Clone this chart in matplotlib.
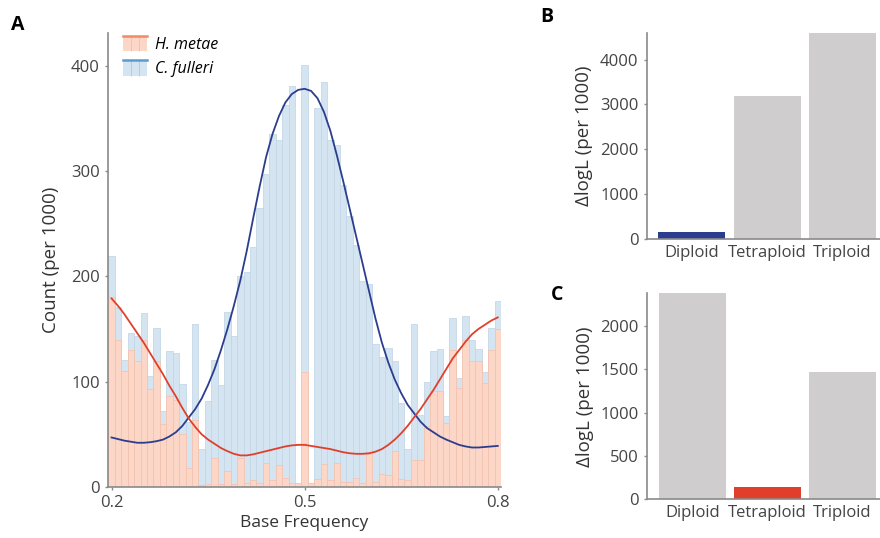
import numpy as np
import matplotlib
matplotlib.use("Agg")
import matplotlib.pyplot as plt
from matplotlib.legend_handler import HandlerBase
from matplotlib.patches import Rectangle
from matplotlib.lines import Line2D

plt.rcParams['font.family'] = ['Open Sans', 'DejaVu Sans']

# --- Panel A data: histogram of base frequencies (count per 1000) ---
freq_bins = np.round(np.linspace(0.2, 0.8, 61), 2)
fulleri_counts = [219, 171, 121, 146, 143, 165, 105, 151, 72, 129,
                  127, 98, 62, 155, 36, 82, 121, 97, 166, 143,
                  200, 204, 228, 265, 297, 335, 329, 363, 381, 0,
                  401, 0, 360, 384, 329, 325, 287, 257, 230, 196,
                  193, 136, 123, 132, 120, 80, 36, 155, 68, 100,
                  129, 131, 67, 160, 103, 162, 140, 131, 109, 151,
                  177]
metae_counts = [180, 140, 110, 130, 120, 140, 93, 120, 60, 86,
                83, 50, 18, 64, 2, 3, 28, 3, 15, 3,
                28, 4, 7, 4, 23, 7, 21, 9, 4, 4,
                109, 4, 8, 22, 7, 23, 5, 5, 9, 4,
                31, 5, 12, 11, 34, 8, 7, 26, 26, 58,
                91, 91, 61, 130, 94, 140, 120, 120, 99, 130,
                150]

# density curves, one value per bin centre
fulleri_curve = [47, 45.5, 44, 43, 42, 42, 42.5, 43.5, 45, 48,
                 52, 58, 66, 74, 84, 97, 112, 130, 150, 172,
                 196, 224, 255, 285, 313, 335, 352, 365, 373, 377,
                 378, 376, 369, 356, 338, 315, 290, 264, 238, 212,
                 186, 160, 137, 118, 102, 89, 78, 70, 62, 56,
                 52, 48, 45, 42.5, 40, 38.5, 37.5, 37.5, 38, 38.5,
                 39]
metae_curve = [179, 172, 164, 155, 146, 137, 127, 117, 107, 96,
               86, 75, 65, 57, 50, 45, 41, 37, 34, 31.5,
               30, 30, 31, 32.5, 34, 35.5, 37, 38.5, 39.5, 40,
               40, 39, 38, 37, 36, 34.5, 33, 32, 31.5, 31.5,
               32, 33.5, 36, 40, 45, 51, 58, 66, 74, 83,
               92, 102, 112, 122, 130, 138, 145, 150, 154, 158,
               161]

# --- Panels B and C: delta log-likelihood per model ---
ploidy = ['Diploid', 'Tetraploid', 'Triploid']
dlogl_fulleri = [169, 3184, 4590]
dlogl_metae = [2377, 142, 1465]

PINK = '#fcd6c7'
PINK_EDGE = '#f4c3b1'
LBLUE = '#d4e4f1'
LBLUE_EDGE = '#c4d7e8'
RED = '#e0402b'
NAVY = '#2b3d8f'
GREY = '#cfcdce'
SPINE = '#8a8a8a'
TXT = '#444444'


class HistKey:
    def __init__(self, fill, line):
        self.fill = fill
        self.line = line


class HistHandler(HandlerBase):
    def create_artists(self, legend, h, xd, yd, width, height, fontsize, trans):
        x0, y0 = -xd, -yd
        arts = [Rectangle((x0, y0), width, height, facecolor=h.fill,
                          edgecolor='none', transform=trans)]
        for f in (1 / 3, 2 / 3):
            arts.append(Line2D([x0 + width * f] * 2, [y0, y0 + height],
                               color=h.line, lw=0.6, alpha=0.35, transform=trans))
        arts.append(Line2D([x0, x0 + width], [y0 + height] * 2,
                           color=h.line, lw=1.8, transform=trans))
        return arts


def style_axes(ax):
    for side in ('top', 'right'):
        ax.spines[side].set_visible(False)
    for side in ('left', 'bottom'):
        ax.spines[side].set_color(SPINE)
        ax.spines[side].set_linewidth(1.2)
    ax.tick_params(colors=SPINE, labelcolor=TXT, labelsize=12, length=2.5, width=1)


fig = plt.figure(figsize=(8.8, 5.38), dpi=100)

# Panel A
axA = fig.add_axes([0.1231, 0.0948, 0.4462, 0.8439])
axA.bar(freq_bins, fulleri_counts, width=0.01, color=LBLUE,
        edgecolor=LBLUE_EDGE, linewidth=0.6)
axA.bar(freq_bins, metae_counts, width=0.01, color=PINK,
        edgecolor=PINK_EDGE, linewidth=0.6)
axA.plot(freq_bins, fulleri_curve, color=NAVY, lw=1.3)
axA.plot(freq_bins, metae_curve, color=RED, lw=1.3)
axA.set_xlim(0.195, 0.805)
axA.set_ylim(0, 431)
axA.set_xticks([0.2, 0.5, 0.8])
axA.set_xticklabels(['0.2', '0.5', '0.8'])
axA.set_yticks([0, 100, 200, 300, 400])
axA.set_xlabel('Base Frequency', fontsize=12.5, color='#333333', labelpad=3)
axA.set_ylabel('Count (per 1000)', fontsize=13.5, color='#333333', labelpad=8)
style_axes(axA)
leg = axA.legend([HistKey(PINK, '#f08a68'), HistKey(LBLUE, '#5b9bd0')],
                 ['H. metae', 'C. fulleri'],
                 handler_map={HistKey: HistHandler()},
                 loc='upper left', bbox_to_anchor=(0.0, 1.025), frameon=False,
                 prop={'style': 'italic', 'size': 11.5},
                 handlelength=1.5, handleheight=1.1, handletextpad=0.55,
                 labelspacing=0.45)

# Panel B
axB = fig.add_axes([0.7349, 0.5552, 0.2651, 0.3835])
axB.bar(ploidy, dlogl_fulleri, width=0.89, color=[NAVY, GREY, GREY])
axB.set_xlim(-0.6, 2.5)
axB.set_ylim(0, max(dlogl_fulleri))
axB.set_yticks([0, 1000, 2000, 3000, 4000])
axB.set_ylabel('ΔlogL (per 1000)', fontsize=13.5, color='#333333', labelpad=5)
style_axes(axB)
axB.tick_params(axis='x', length=0, pad=4)

# Panel C
axC = fig.add_axes([0.7356, 0.0719, 0.2644, 0.3829])
axC.bar(ploidy, dlogl_metae, width=0.89, color=[GREY, RED, GREY])
axC.set_xlim(-0.6, 2.5)
axC.set_ylim(0, max(dlogl_metae))
axC.set_yticks([0, 500, 1000, 1500, 2000])
axC.set_ylabel('ΔlogL (per 1000)', fontsize=13.5, color='#333333', labelpad=5)
style_axes(axC)
axC.tick_params(axis='x', length=0, pad=4)

fig.text(0.012, 0.972, 'A', fontsize=14, fontweight='bold', color='black', va='top')
fig.text(0.614, 0.987, 'B', fontsize=14, fontweight='bold', color='black', va='top')
fig.text(0.626, 0.47, 'C', fontsize=14, fontweight='bold', color='black', va='top')

fig.savefig('out.png', dpi=100)
